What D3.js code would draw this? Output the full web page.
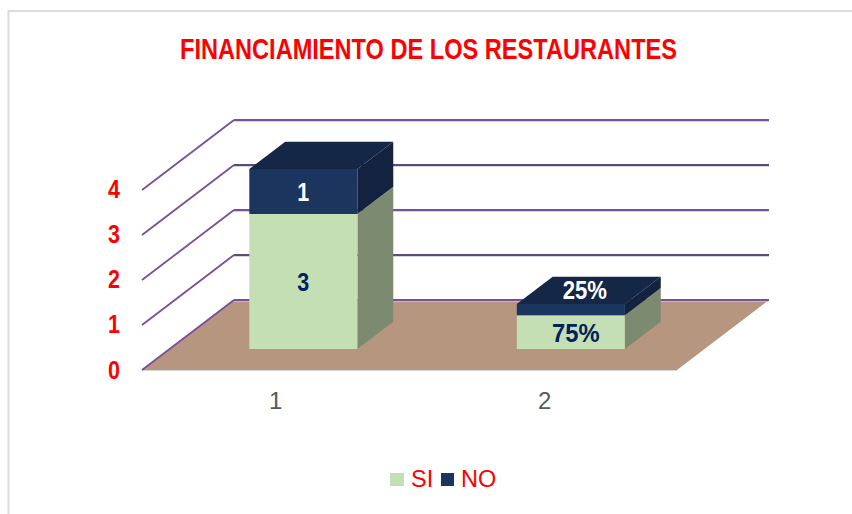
<!DOCTYPE html>
<html><head><meta charset="utf-8">
<script src="https://cdn.jsdelivr.net/npm/d3@7/dist/d3.min.js"></script>
<style>html,body{margin:0;padding:0;background:#fff}svg{display:block}</style></head>
<body><svg id="c" width="852" height="514"></svg>
<script>
const categories = ["1","2"];
const seriesNames = ["SI","NO"];
const siValues = [3,0.75];
const noValues = [1,0.25];
const siLabels = ["3","75%"];
const noLabels = ["1","25%"];
const yTicks = [0,1,2,3,4];
const titleText = "FINANCIAMIENTO DE LOS RESTAURANTES";

const svg = d3.select("#c");
const frameC="#dcdcdc", purple="#7a4f9a", grey="#5e4a78", floorC="#b79680";
const siC={front:"#c3dfb3",side:"#7c8b6f"};
const noC={front:"#1b355f",side:"#12223f",top:"#152747"};
const sans="'Liberation Sans',Arial";

svg.append("path").attr("d","M8.5,514V11H852").attr("fill","none").attr("stroke",frameC).attr("stroke-width",2);

const x = d3.scaleBand().domain(categories).range([142,677]);
const y = d3.scaleLinear().domain([0,4]).range([370,190]);
const depthX=92, depthY=-70;
const barFrac=0.404, barStart=0.3, barDepth=0.39;
const P=(px,py,d)=>[px+depthX*d,py+depthY*d];

function squeezed(txt,xx,yy,fs,sx,fill,anchor){
  return svg.append("text").attr("transform",`translate(${xx},${yy}) scale(${sx},1)`)
    .attr("text-anchor",anchor||"middle").attr("font-family",sans).attr("font-weight","bold")
    .attr("font-size",fs).attr("fill",fill).text(txt);
}

svg.append("text").attr("x",428.5).attr("y",58.5).attr("text-anchor","middle")
 .attr("font-family",sans).attr("font-weight","bold")
 .attr("font-size",30).attr("fill","#ff0000").attr("textLength",497).attr("lengthAdjust","spacingAndGlyphs").text(titleText);

const x0=x.range()[0], x1=x.range()[1];
svg.append("polygon").attr("fill",floorC)
 .attr("points",[P(x0,y(0),0),P(x1,y(0),0),P(x1,y(0),1),P(x0,y(0),1)].join(" "));
svg.append("line").attr("x1",x0).attr("x2",x1).attr("y1",y(0)+.5).attr("y2",y(0)+.5).attr("stroke","#d9d5d2").attr("stroke-width",1);
yTicks.forEach(t=>{
  const a=P(x0,y(t),0), b=P(x0,y(t),1), c=P(x1,y(t),1);
  svg.append("line").attr("x1",a[0]).attr("y1",a[1]).attr("x2",b[0]).attr("y2",b[1]).attr("stroke",purple).attr("stroke-width",1.8);
  svg.append("line").attr("x1",b[0]).attr("y1",b[1]+1).attr("x2",c[0]).attr("y2",c[1]+1).attr("stroke","#c9c6cf").attr("stroke-width",1.5);
  svg.append("line").attr("x1",b[0]).attr("y1",b[1]).attr("x2",c[0]).attr("y2",c[1]).attr("stroke",(t%2===1)?grey:purple).attr("stroke-width",2);
});
yTicks.forEach(t=>squeezed(String(t),120,y(t)+(t===0?9:8),25,0.86,"#ff0000","end"));
svg.selectAll(".xl").data(categories).join("text").attr("x",c=>x(c)+x.bandwidth()/2+(c==="2"?1.5:0)).attr("y",409)
 .attr("text-anchor","middle").attr("font-family",sans).attr("font-size",24).attr("fill","#595959").text(c=>c);

function box(c,v0,v1,col){
  const w=x.bandwidth()*barFrac, xl=x(c)+x.bandwidth()/2-w/2, xr=xl+w;
  const p=(px,v,d)=>P(px,y(v),barStart+d);
  const g=svg.append("g");
  g.append("polygon").attr("fill",col.side).attr("points",[p(xr,v0,0),p(xr,v0,barDepth),p(xr,v1,barDepth),p(xr,v1,0)].join(" "));
  g.append("polygon").attr("fill",col.front).attr("points",[p(xl,v0,0),p(xr,v0,0),p(xr,v1,0),p(xl,v1,0)].join(" "));
  return {xc:(xl+xr)/2+depthX*barStart};
}
function drawTop(c,v,col){
  const w=x.bandwidth()*barFrac, xl=x(c)+x.bandwidth()/2-w/2, xr=xl+w;
  const p=(px,d)=>P(px,y(v),barStart+d);
  svg.append("polygon").attr("fill",col.top).attr("points",[p(xl,0),p(xr,0),p(xr,barDepth),p(xl,barDepth)].join(" "));
}
categories.forEach((c,i)=>{
  const b1=box(c,0,siValues[i],siC);
  box(c,siValues[i],siValues[i]+noValues[i],noC);
  drawTop(c,siValues[i]+noValues[i],noC);
  const yMid=(a,b)=>y((a+b)/2)+depthY*barStart;
  if(i===0){
    squeezed(siLabels[i],b1.xc,yMid(0,siValues[i])+9,25,0.86,"#002060");
    squeezed(noLabels[i],b1.xc,yMid(siValues[i],siValues[i]+noValues[i])+9,25,0.86,"#ffffff");
  } else {
    squeezed(siLabels[i],b1.xc+5,yMid(0,siValues[i])+9.5,25,0.95,"#002060");
    squeezed(noLabels[i],b1.xc+14,299,26,0.85,"#ffffff");
  }
});
const lg=[{n:seriesNames[0],c:siC.front,rx:390,rw:14,tx:411},{n:seriesNames[1],c:noC.front,rx:441,rw:13,tx:461}];
lg.forEach(l=>{
  svg.append("rect").attr("x",l.rx).attr("y",473).attr("width",l.rw).attr("height",13).attr("fill",l.c);
  svg.append("text").attr("x",l.tx).attr("y",487).attr("font-family",sans).attr("font-size",23.5).attr("fill","#ff0000").text(l.n);
});
</script></body></html>
